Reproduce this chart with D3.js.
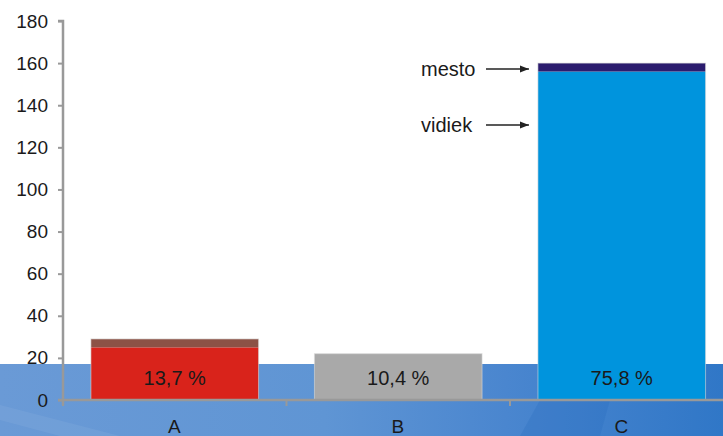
<!DOCTYPE html>
<html>
<head>
<meta charset="utf-8">
<script src="https://cdn.jsdelivr.net/npm/d3@7"></script>
<style>
  html, body { margin: 0; padding: 0; background: #fff; }
  svg { display: block; font-family: "Liberation Sans", Arial, sans-serif; }
</style>
</head>
<body>
<svg id="chart" width="723" height="436"></svg>
<script>
// data
const categories = ['A', 'B', 'C'];
const vidiek = [25, 22, 156];
const mesto = [4, 0, 4];
const shares = ['13,7 %', '10,4 %', '75,8 %'];
const yTicks = [0, 20, 40, 60, 80, 100, 120, 140, 160, 180];

const baseColors = ['#d9231b', '#a9a9a9', '#0094dd'];
const topColors = ['#8c5246', '#a9a9a9', '#2b1c6e'];

const svg = d3.select('#chart');
const W = 723, H = 436;

// slide background band at the bottom
const defs = svg.append('defs');
const grad = defs.append('linearGradient')
  .attr('id', 'band')
  .attr('x1', '0%').attr('y1', '0%').attr('x2', '100%').attr('y2', '0%');
grad.append('stop').attr('offset', '0%').attr('stop-color', '#6a9ad6');
grad.append('stop').attr('offset', '45%').attr('stop-color', '#5f95d4');
grad.append('stop').attr('offset', '70%').attr('stop-color', '#4a86cf');
grad.append('stop').attr('offset', '100%').attr('stop-color', '#3077c7');

svg.append('rect')
  .attr('x', 0).attr('y', 364)
  .attr('width', W).attr('height', H - 364)
  .attr('fill', 'url(#band)');

// soft streaks like in the background image
svg.append('path')
  .attr('d', 'M 0 405 L 120 436 L 60 436 L 0 420 Z')
  .attr('fill', '#ffffff').attr('opacity', 0.06);
svg.append('path')
  .attr('d', 'M 560 364 L 620 364 L 600 436 L 520 436 Z')
  .attr('fill', '#1d62b8').attr('opacity', 0.2);

const x0 = 63, xEnd = 733.5;
const y = d3.scaleLinear().domain([0, 180]).range([400, 21]);
const x = d3.scaleBand().domain(categories).range([x0, xEnd]).padding(0);
const barOff = x.bandwidth() * 0.125;
const barW = x.bandwidth() * 0.75;

// bars
const g = svg.append('g');
categories.forEach((c, i) => {
  const bx = x(c) + barOff;
  g.append('rect')
    .attr('x', bx).attr('y', y(vidiek[i]))
    .attr('width', barW).attr('height', y(0) - y(vidiek[i]))
    .attr('fill', baseColors[i]);
  if (mesto[i] > 0) {
    g.append('rect')
      .attr('x', bx).attr('y', y(vidiek[i] + mesto[i]))
      .attr('width', barW).attr('height', y(vidiek[i]) - y(vidiek[i] + mesto[i]))
      .attr('fill', topColors[i]);
  }
  g.append('rect')
    .attr('x', bx).attr('y', y(vidiek[i] + mesto[i]))
    .attr('width', barW).attr('height', y(0) - y(vidiek[i] + mesto[i]))
    .attr('fill', 'none')
    .attr('stroke', '#d8d8d8').attr('stroke-width', 1).attr('stroke-opacity', 0.6);
  g.append('text')
    .attr('x', bx + barW / 2).attr('y', 378)
    .attr('text-anchor', 'middle').attr('dy', '0.35em')
    .attr('font-size', 20).attr('fill', '#1a1a1a')
    .text(shares[i]);
});

// y axis
const yAxis = d3.axisLeft(y).tickValues(yTicks).tickSize(5).tickPadding(10);
const ya = svg.append('g').attr('transform', `translate(${x0},0)`).call(yAxis);
ya.select('.domain').attr('stroke', '#999').attr('stroke-width', 2.5)
  .attr('d', `M-5,${y(180)}H0V${y(0) + 5}`);
ya.selectAll('.tick line').attr('stroke', '#999').attr('stroke-width', 2);
ya.selectAll('.tick text')
  .attr('font-size', 19).attr('fill', '#1a1a1a')
  .attr('font-family', '"Liberation Sans", Arial, sans-serif');

// x axis
svg.append('line')
  .attr('x1', x0 - 5).attr('x2', W).attr('y1', y(0)).attr('y2', y(0))
  .attr('stroke', '#999').attr('stroke-width', 2.5);
categories.forEach(c => {
  svg.append('line')
    .attr('x1', x(c)).attr('x2', x(c))
    .attr('y1', y(0)).attr('y2', y(0) + 6)
    .attr('stroke', '#999').attr('stroke-width', 2);
  svg.append('text')
    .attr('x', x(c) + x.bandwidth() / 2 - 0.5).attr('y', 426)
    .attr('text-anchor', 'middle').attr('dy', '0.35em')
    .attr('font-size', 19).attr('fill', '#1a1a1a')
    .text(c);
});

// annotations for the stacked segments of C
defs.append('marker')
  .attr('id', 'arrow').attr('viewBox', '0 0 10 10')
  .attr('refX', 10).attr('refY', 5)
  .attr('markerWidth', 7).attr('markerHeight', 7)
  .attr('orient', 'auto')
  .append('path').attr('d', 'M0,1 L10,5 L0,9 Z').attr('fill', '#222');

const cx = x('C') + barOff;
const notes = [
  { text: 'mesto', yv: 157.2 },
  { text: 'vidiek', yv: 130.6 }
];
notes.forEach(n => {
  const yy = y(n.yv);
  svg.append('text')
    .attr('x', 421).attr('y', yy).attr('dy', '0.35em')
    .attr('font-size', 20).attr('fill', '#1a1a1a')
    .text(n.text);
  svg.append('line')
    .attr('x1', 486).attr('x2', cx - 9)
    .attr('y1', yy).attr('y2', yy)
    .attr('stroke', '#222').attr('stroke-width', 1.3)
    .attr('marker-end', 'url(#arrow)');
});
</script>
</body>
</html>
